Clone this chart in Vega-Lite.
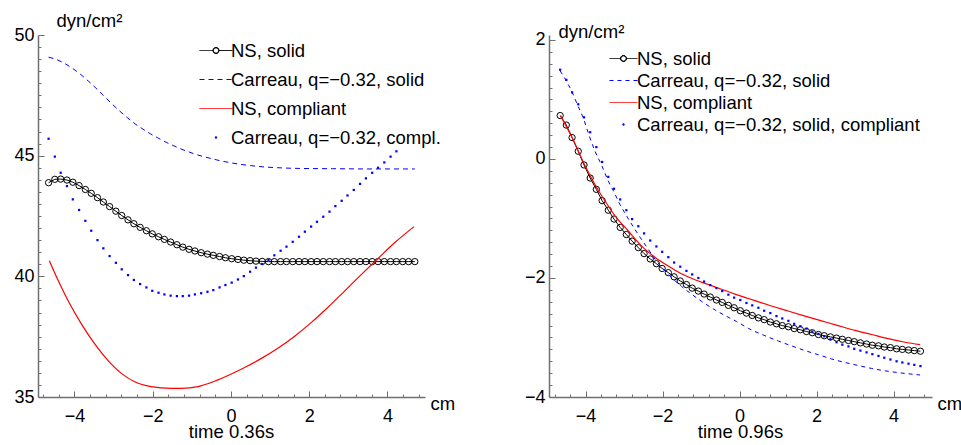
{
  "$schema": "https://vega.github.io/schema/vega-lite/v6.json",
  "background": "white",
  "padding": {"left": 13, "top": 11, "right": 0, "bottom": 0},
  "config": {
    "font": "Liberation Sans",
    "view": {"stroke": null},
    "axis": {"labelFontSize": 18, "titleFontSize": 18.5, "labelColor": "black", "titleColor": "black", "domainColor": "#707070", "tickColor": "#707070", "domainWidth": 1.5, "tickWidth": 1, "grid": false, "labelOverlap": false, "labelFlush": false, "titleFontWeight": "normal"},
    "legend": {"labelFontSize": 18.5, "labelColor": "black"}
  },
  "datasets": {
    "l_ns": [
      {"x": -4.66, "y": 43.88}, {"x": -4.50, "y": 44.02}, {"x": -4.35, "y": 44.03}, {"x": -4.19, "y": 43.99}, {"x": -4.04, "y": 43.90},
      {"x": -3.88, "y": 43.76}, {"x": -3.72, "y": 43.60}, {"x": -3.57, "y": 43.44}, {"x": -3.41, "y": 43.26}, {"x": -3.26, "y": 43.08},
      {"x": -3.10, "y": 42.89}, {"x": -2.94, "y": 42.70}, {"x": -2.79, "y": 42.52}, {"x": -2.63, "y": 42.34}, {"x": -2.48, "y": 42.18},
      {"x": -2.32, "y": 42.03}, {"x": -2.16, "y": 41.89}, {"x": -2.01, "y": 41.76}, {"x": -1.85, "y": 41.64}, {"x": -1.70, "y": 41.53},
      {"x": -1.54, "y": 41.42}, {"x": -1.38, "y": 41.31}, {"x": -1.23, "y": 41.21}, {"x": -1.07, "y": 41.12}, {"x": -0.92, "y": 41.05},
      {"x": -0.76, "y": 40.98}, {"x": -0.60, "y": 40.92}, {"x": -0.45, "y": 40.87}, {"x": -0.29, "y": 40.82}, {"x": -0.14, "y": 40.77},
      {"x": 0.02, "y": 40.73}, {"x": 0.18, "y": 40.70}, {"x": 0.33, "y": 40.67}, {"x": 0.49, "y": 40.65}, {"x": 0.64, "y": 40.63},
      {"x": 0.80, "y": 40.62}, {"x": 0.96, "y": 40.61}, {"x": 1.11, "y": 40.61}, {"x": 1.27, "y": 40.61}, {"x": 1.42, "y": 40.61},
      {"x": 1.58, "y": 40.61}, {"x": 1.74, "y": 40.61}, {"x": 1.89, "y": 40.61}, {"x": 2.05, "y": 40.61}, {"x": 2.20, "y": 40.61},
      {"x": 2.36, "y": 40.61}, {"x": 2.52, "y": 40.61}, {"x": 2.67, "y": 40.61}, {"x": 2.83, "y": 40.61}, {"x": 2.98, "y": 40.61},
      {"x": 3.14, "y": 40.61}, {"x": 3.30, "y": 40.61}, {"x": 3.45, "y": 40.61}, {"x": 3.61, "y": 40.61}, {"x": 3.76, "y": 40.61},
      {"x": 3.92, "y": 40.61}, {"x": 4.08, "y": 40.61}, {"x": 4.23, "y": 40.61}, {"x": 4.39, "y": 40.61}, {"x": 4.54, "y": 40.61},
      {"x": 4.70, "y": 40.61}
    ],
    "l_cs": [
      {"x": -4.66, "y": 49.08}, {"x": -4.45, "y": 48.98}, {"x": -4.25, "y": 48.82}, {"x": -4.05, "y": 48.62}, {"x": -3.85, "y": 48.38},
      {"x": -3.65, "y": 48.10}, {"x": -3.45, "y": 47.80}, {"x": -3.25, "y": 47.48}, {"x": -3.05, "y": 47.16}, {"x": -2.85, "y": 46.86},
      {"x": -2.65, "y": 46.58}, {"x": -2.45, "y": 46.32}, {"x": -2.25, "y": 46.10}, {"x": -2.05, "y": 45.90}, {"x": -1.85, "y": 45.72},
      {"x": -1.65, "y": 45.55}, {"x": -1.45, "y": 45.40}, {"x": -1.25, "y": 45.26}, {"x": -1.05, "y": 45.14}, {"x": -0.85, "y": 45.03},
      {"x": -0.65, "y": 44.94}, {"x": -0.45, "y": 44.86}, {"x": -0.25, "y": 44.78}, {"x": -0.05, "y": 44.72}, {"x": 0.20, "y": 44.65},
      {"x": 0.50, "y": 44.59}, {"x": 0.80, "y": 44.54}, {"x": 1.20, "y": 44.50}, {"x": 1.80, "y": 44.47}, {"x": 2.60, "y": 44.46},
      {"x": 3.50, "y": 44.45}, {"x": 4.70, "y": 44.45}
    ],
    "l_nc": [
      {"x": -4.64, "y": 40.65}, {"x": -4.42, "y": 39.85}, {"x": -4.17, "y": 39.02}, {"x": -3.83, "y": 38.05}, {"x": -3.49, "y": 37.22},
      {"x": -3.15, "y": 36.53}, {"x": -2.80, "y": 35.98}, {"x": -2.46, "y": 35.63}, {"x": -2.04, "y": 35.43}, {"x": -1.53, "y": 35.36},
      {"x": -1.27, "y": 35.36}, {"x": -0.84, "y": 35.43}, {"x": -0.42, "y": 35.65}, {"x": 0.01, "y": 35.95}, {"x": 0.35, "y": 36.22},
      {"x": 0.78, "y": 36.60}, {"x": 1.20, "y": 37.02}, {"x": 1.63, "y": 37.52}, {"x": 2.05, "y": 38.08}, {"x": 2.48, "y": 38.72},
      {"x": 2.91, "y": 39.40}, {"x": 3.33, "y": 40.07}, {"x": 3.76, "y": 40.74}, {"x": 4.19, "y": 41.40}, {"x": 4.68, "y": 42.06}
    ],
    "l_cc": [
      {"x": -4.66, "y": 45.70}, {"x": -4.50, "y": 44.96}, {"x": -4.35, "y": 44.29}, {"x": -4.19, "y": 43.74}, {"x": -4.04, "y": 43.19},
      {"x": -3.88, "y": 42.75}, {"x": -3.72, "y": 42.30}, {"x": -3.57, "y": 41.89}, {"x": -3.41, "y": 41.50}, {"x": -3.26, "y": 41.16},
      {"x": -3.10, "y": 40.84}, {"x": -2.94, "y": 40.56}, {"x": -2.79, "y": 40.29}, {"x": -2.63, "y": 40.05}, {"x": -2.48, "y": 39.85},
      {"x": -2.32, "y": 39.68}, {"x": -2.16, "y": 39.54}, {"x": -2.01, "y": 39.40}, {"x": -1.85, "y": 39.32}, {"x": -1.70, "y": 39.25},
      {"x": -1.54, "y": 39.20}, {"x": -1.38, "y": 39.18}, {"x": -1.23, "y": 39.18}, {"x": -1.07, "y": 39.20}, {"x": -0.92, "y": 39.25},
      {"x": -0.76, "y": 39.30}, {"x": -0.60, "y": 39.36}, {"x": -0.45, "y": 39.43}, {"x": -0.29, "y": 39.54}, {"x": -0.14, "y": 39.64},
      {"x": 0.02, "y": 39.74}, {"x": 0.18, "y": 39.87}, {"x": 0.33, "y": 40.01}, {"x": 0.49, "y": 40.19}, {"x": 0.64, "y": 40.36},
      {"x": 0.80, "y": 40.51}, {"x": 0.96, "y": 40.68}, {"x": 1.11, "y": 40.87}, {"x": 1.27, "y": 41.06}, {"x": 1.42, "y": 41.23},
      {"x": 1.58, "y": 41.43}, {"x": 1.74, "y": 41.64}, {"x": 1.89, "y": 41.85}, {"x": 2.05, "y": 42.06}, {"x": 2.20, "y": 42.26},
      {"x": 2.36, "y": 42.47}, {"x": 2.52, "y": 42.68}, {"x": 2.67, "y": 42.91}, {"x": 2.83, "y": 43.13}, {"x": 2.98, "y": 43.35},
      {"x": 3.14, "y": 43.58}, {"x": 3.30, "y": 43.83}, {"x": 3.45, "y": 44.06}, {"x": 3.61, "y": 44.29}, {"x": 3.76, "y": 44.50},
      {"x": 3.92, "y": 44.72}, {"x": 4.08, "y": 44.96}, {"x": 4.23, "y": 45.18}
    ],
    "r_ns": [
      {"x": -4.66, "y": 0.73}, {"x": -4.50, "y": 0.57}, {"x": -4.35, "y": 0.36}, {"x": -4.19, "y": 0.13}, {"x": -4.04, "y": -0.10},
      {"x": -3.88, "y": -0.32}, {"x": -3.72, "y": -0.51}, {"x": -3.57, "y": -0.70}, {"x": -3.41, "y": -0.86}, {"x": -3.26, "y": -1.01},
      {"x": -3.10, "y": -1.15}, {"x": -2.94, "y": -1.27}, {"x": -2.79, "y": -1.38}, {"x": -2.63, "y": -1.49}, {"x": -2.48, "y": -1.59},
      {"x": -2.32, "y": -1.68}, {"x": -2.16, "y": -1.76}, {"x": -2.01, "y": -1.84}, {"x": -1.85, "y": -1.91}, {"x": -1.70, "y": -1.98},
      {"x": -1.54, "y": -2.05}, {"x": -1.38, "y": -2.11}, {"x": -1.23, "y": -2.17}, {"x": -1.07, "y": -2.22}, {"x": -0.92, "y": -2.27},
      {"x": -0.76, "y": -2.32}, {"x": -0.60, "y": -2.37}, {"x": -0.45, "y": -2.41}, {"x": -0.29, "y": -2.46}, {"x": -0.14, "y": -2.50},
      {"x": 0.02, "y": -2.55}, {"x": 0.18, "y": -2.59}, {"x": 0.33, "y": -2.63}, {"x": 0.49, "y": -2.67}, {"x": 0.64, "y": -2.70},
      {"x": 0.80, "y": -2.74}, {"x": 0.96, "y": -2.77}, {"x": 1.11, "y": -2.80}, {"x": 1.27, "y": -2.82}, {"x": 1.42, "y": -2.85},
      {"x": 1.58, "y": -2.87}, {"x": 1.74, "y": -2.90}, {"x": 1.89, "y": -2.92}, {"x": 2.05, "y": -2.95}, {"x": 2.20, "y": -2.97},
      {"x": 2.36, "y": -2.99}, {"x": 2.52, "y": -3.01}, {"x": 2.67, "y": -3.03}, {"x": 2.83, "y": -3.05}, {"x": 2.98, "y": -3.07},
      {"x": 3.14, "y": -3.09}, {"x": 3.30, "y": -3.11}, {"x": 3.45, "y": -3.13}, {"x": 3.61, "y": -3.14}, {"x": 3.76, "y": -3.16},
      {"x": 3.92, "y": -3.17}, {"x": 4.08, "y": -3.19}, {"x": 4.23, "y": -3.20}, {"x": 4.39, "y": -3.21}, {"x": 4.54, "y": -3.22},
      {"x": 4.70, "y": -3.23}
    ],
    "r_cs": [
      {"x": -4.66, "y": 1.48}, {"x": -4.49, "y": 1.30}, {"x": -4.34, "y": 1.11}, {"x": -4.21, "y": 0.91}, {"x": -4.06, "y": 0.69},
      {"x": -3.91, "y": 0.40}, {"x": -3.76, "y": 0.14}, {"x": -3.58, "y": -0.11}, {"x": -3.43, "y": -0.34}, {"x": -3.25, "y": -0.57},
      {"x": -3.11, "y": -0.76}, {"x": -2.94, "y": -0.95}, {"x": -2.76, "y": -1.14}, {"x": -2.59, "y": -1.31}, {"x": -2.41, "y": -1.48},
      {"x": -2.20, "y": -1.68}, {"x": -1.98, "y": -1.85}, {"x": -1.72, "y": -2.02}, {"x": -1.51, "y": -2.14}, {"x": -1.25, "y": -2.27},
      {"x": -0.99, "y": -2.39}, {"x": -0.68, "y": -2.52}, {"x": -0.38, "y": -2.63}, {"x": -0.08, "y": -2.73}, {"x": 0.24, "y": -2.85},
      {"x": 0.66, "y": -2.97}, {"x": 1.01, "y": -3.06}, {"x": 1.35, "y": -3.14}, {"x": 1.70, "y": -3.22}, {"x": 2.05, "y": -3.29},
      {"x": 2.39, "y": -3.36}, {"x": 2.74, "y": -3.42}, {"x": 3.08, "y": -3.47}, {"x": 3.43, "y": -3.52}, {"x": 3.78, "y": -3.56},
      {"x": 4.12, "y": -3.59}, {"x": 4.69, "y": -3.63}
    ],
    "r_nc": [
      {"x": -4.65, "y": 0.73}, {"x": -4.35, "y": 0.36}, {"x": -4.04, "y": -0.08}, {"x": -3.72, "y": -0.47}, {"x": -3.54, "y": -0.66},
      {"x": -3.24, "y": -0.95}, {"x": -2.89, "y": -1.21}, {"x": -2.55, "y": -1.46}, {"x": -2.20, "y": -1.65}, {"x": -1.85, "y": -1.80},
      {"x": -1.51, "y": -1.93}, {"x": -1.16, "y": -2.03}, {"x": -0.81, "y": -2.11}, {"x": -0.47, "y": -2.19}, {"x": -0.12, "y": -2.27},
      {"x": 0.21, "y": -2.34}, {"x": 0.40, "y": -2.38}, {"x": 0.83, "y": -2.47}, {"x": 1.26, "y": -2.555}, {"x": 1.70, "y": -2.64},
      {"x": 2.13, "y": -2.72}, {"x": 2.56, "y": -2.80}, {"x": 3.00, "y": -2.88}, {"x": 3.43, "y": -2.95}, {"x": 3.86, "y": -3.02},
      {"x": 4.30, "y": -3.08}, {"x": 4.69, "y": -3.12}
    ],
    "r_cc": [
      {"x": -4.66, "y": 1.50}, {"x": -4.50, "y": 1.33}, {"x": -4.35, "y": 1.12}, {"x": -4.19, "y": 0.92}, {"x": -4.04, "y": 0.70},
      {"x": -3.88, "y": 0.45}, {"x": -3.72, "y": 0.20}, {"x": -3.57, "y": -0.05}, {"x": -3.41, "y": -0.30}, {"x": -3.26, "y": -0.50},
      {"x": -3.10, "y": -0.68}, {"x": -2.94, "y": -0.86}, {"x": -2.79, "y": -1.01}, {"x": -2.63, "y": -1.13}, {"x": -2.48, "y": -1.25},
      {"x": -2.32, "y": -1.37}, {"x": -2.16, "y": -1.47}, {"x": -2.01, "y": -1.56}, {"x": -1.85, "y": -1.65}, {"x": -1.70, "y": -1.74},
      {"x": -1.54, "y": -1.81}, {"x": -1.38, "y": -1.88}, {"x": -1.23, "y": -1.94}, {"x": -1.07, "y": -2.00}, {"x": -0.92, "y": -2.06},
      {"x": -0.76, "y": -2.12}, {"x": -0.60, "y": -2.17}, {"x": -0.45, "y": -2.22}, {"x": -0.29, "y": -2.28}, {"x": -0.14, "y": -2.33},
      {"x": 0.02, "y": -2.37}, {"x": 0.18, "y": -2.42}, {"x": 0.33, "y": -2.46}, {"x": 0.49, "y": -2.50}, {"x": 0.64, "y": -2.55},
      {"x": 0.80, "y": -2.59}, {"x": 0.96, "y": -2.64}, {"x": 1.11, "y": -2.68}, {"x": 1.27, "y": -2.72}, {"x": 1.42, "y": -2.77},
      {"x": 1.58, "y": -2.81}, {"x": 1.74, "y": -2.85}, {"x": 1.89, "y": -2.90}, {"x": 2.05, "y": -2.94}, {"x": 2.20, "y": -2.98},
      {"x": 2.36, "y": -3.03}, {"x": 2.52, "y": -3.08}, {"x": 2.67, "y": -3.12}, {"x": 2.83, "y": -3.15}, {"x": 2.98, "y": -3.19},
      {"x": 3.14, "y": -3.22}, {"x": 3.30, "y": -3.25}, {"x": 3.45, "y": -3.28}, {"x": 3.61, "y": -3.31}, {"x": 3.76, "y": -3.34},
      {"x": 3.92, "y": -3.37}, {"x": 4.08, "y": -3.40}, {"x": 4.23, "y": -3.42}, {"x": 4.39, "y": -3.44}, {"x": 4.54, "y": -3.46},
      {"x": 4.70, "y": -3.48}
    ]
  },
  "hconcat": [
    {
      "width": 387,
      "height": 362,
      "title": {"text": "time 0.36s", "orient": "bottom", "anchor": "middle", "fontSize": 18.5, "fontWeight": "normal", "color": "black", "offset": -2},
      "resolve": {"axis": {"x": "independent", "y": "independent"}},
      "layer": [
        {
          "data": {"name": "l_ns"},
          "mark": {"type": "line", "strokeWidth": 1},
          "encoding": {
            "x": {"field": "x", "type": "quantitative", "scale": {"domain": [-4.93, 4.96], "zero": false, "nice": false},
              "axis": {"orient": "bottom", "title": "cm", "titleX": 392, "titleY": 6, "titleAlign": "left", "titleBaseline": "middle", "titleAngle": 0,
                "values": [-4, -2, 0, 2, 4], "format": "d", "tickSize": -6, "labelPadding": 16}},
            "y": {"field": "y", "type": "quantitative", "scale": {"domain": [35, 50], "zero": false, "nice": false},
              "axis": {"orient": "left", "title": "dyn/cm²", "titleAngle": 0, "titleX": 18, "titleY": -9, "titleAlign": "left", "titleBaseline": "alphabetic",
                "values": [35, 40, 45, 50], "format": "d", "tickSize": -6, "labelPadding": 10}},
            "color": {"datum": "NS, solid", "type": "nominal",
              "scale": {"domain": ["NS, solid", "Carreau, q=−0.32, solid", "NS, compliant", "Carreau, q=−0.32, compl."], "range": ["#000000", "#0000ff", "#ff0000", "#0000ff"]},
              "legend": {"title": null, "orient": "none", "legendX": 161, "legendY": 6, "padding": 0, "labelLimit": 500, "labelOffset": -2,
                "symbolSize": 1089, "symbolStrokeWidth": 1, "symbolOffset": 0, "clipHeight": 19, "rowPadding": 10, "symbolType": "stroke",
                "encode": {"symbols": {"update": {
                  "shape": {"signal": "datum.value === 'NS, solid' ? 'M-1,0H-0.19M0.19,0H1M0.19,0L0.165,0.095L0.095,0.165L0,0.19L-0.095,0.165L-0.165,0.095L-0.19,0L-0.165,-0.095L-0.095,-0.165L0,-0.19L0.095,-0.165L0.165,-0.095ZM0.16,0L0.139,-0.08L0.08,-0.139L0,-0.16L-0.08,-0.139L-0.139,-0.08L-0.16,0L-0.139,0.08L-0.08,0.139L0,0.16L0.08,0.139L0.139,0.08Z' : datum.value === 'Carreau, q=−0.32, compl.' ? 'M-0.04,-0.04H0.04V0.04H-0.04Z' : 'stroke'"},
                  "fill": {"signal": "datum.value === 'Carreau, q=−0.32, compl.' ? '#0000ff' : 'transparent'"},
                  "strokeDash": {"signal": "datum.value === 'Carreau, q=−0.32, solid' ? [5,4] : [1,0]"},
                  "opacity": {"value": 1}
                }}}}}
          }
        },
        {
          "data": {"name": "l_ns"},
          "mark": {"type": "point", "shape": "circle", "filled": false, "size": 40, "strokeWidth": 1, "opacity": 1},
          "encoding": {
            "x": {"field": "x", "type": "quantitative",
              "axis": {"orient": "bottom", "title": null, "labels": false, "domain": false, "tickSize": -3,
                "values": [-4.8, -4.4, -3.6, -3.2, -2.8, -2.4, -1.6, -1.2, -0.8, -0.4, 0.4, 0.8, 1.2, 1.6, 2.4, 2.8, 3.2, 3.6, 4.4, 4.8]}},
            "y": {"field": "y", "type": "quantitative",
              "axis": {"orient": "left", "title": null, "labels": false, "domain": false, "tickSize": -3,
                "values": [35.5, 36, 36.5, 37, 37.5, 38, 38.5, 39, 39.5, 40.5, 41, 41.5, 42, 42.5, 43, 43.5, 44, 44.5, 45.5, 46, 46.5, 47, 47.5, 48, 48.5, 49, 49.5]}},
            "color": {"datum": "NS, solid", "type": "nominal"}}
        },
        {
          "data": {"name": "l_cs"},
          "mark": {"type": "line", "strokeWidth": 1, "strokeDash": [5, 4], "interpolate": "monotone"},
          "encoding": {"x": {"field": "x", "type": "quantitative", "axis": null}, "y": {"field": "y", "type": "quantitative", "axis": null}, "color": {"datum": "Carreau, q=−0.32, solid", "type": "nominal"}}
        },
        {
          "data": {"name": "l_nc"},
          "mark": {"type": "line", "strokeWidth": 1.2, "interpolate": "monotone"},
          "encoding": {"x": {"field": "x", "type": "quantitative", "axis": null}, "y": {"field": "y", "type": "quantitative", "axis": null}, "color": {"datum": "NS, compliant", "type": "nominal"}}
        },
        {
          "data": {"name": "l_cc"},
          "mark": {"type": "point", "shape": "square", "filled": true, "size": 5, "opacity": 1},
          "encoding": {"x": {"field": "x", "type": "quantitative", "axis": null}, "y": {"field": "y", "type": "quantitative", "axis": null}, "color": {"datum": "Carreau, q=−0.32, compl.", "type": "nominal"}}
        }
      ]
    },
    {
      "width": 383,
      "height": 362,
      "title": {"text": "time 0.96s", "orient": "bottom", "anchor": "middle", "fontSize": 18.5, "fontWeight": "normal", "color": "black", "offset": -2},
      "resolve": {"axis": {"x": "independent", "y": "independent"}},
      "layer": [
        {
          "data": {"name": "r_ns"},
          "mark": {"type": "line", "strokeWidth": 1},
          "encoding": {
            "x": {"field": "x", "type": "quantitative", "scale": {"domain": [-4.95, 5.0], "zero": false, "nice": false},
              "axis": {"orient": "bottom", "title": "cm", "titleX": 388, "titleY": 6, "titleAlign": "left", "titleBaseline": "middle", "titleAngle": 0,
                "values": [-4, -2, 0, 2, 4], "format": "d", "tickSize": -6, "labelPadding": 16}},
            "y": {"field": "y", "type": "quantitative", "scale": {"domain": [-4, 2.084], "zero": false, "nice": false},
              "axis": {"orient": "left", "title": "dyn/cm²", "titleAngle": 0, "titleX": 9, "titleY": 2, "titleAlign": "left", "titleBaseline": "alphabetic",
                "values": [-4, -2, 0, 2], "format": "d", "tickSize": -6, "labelPadding": 10}},
            "color": {"datum": "NS, solid", "type": "nominal",
              "scale": {"domain": ["NS, solid", "Carreau, q=−0.32, solid", "NS, compliant", "Carreau, q=−0.32, solid, compliant"], "range": ["#000000", "#0000ff", "#ff0000", "#0000ff"]},
              "legend": {"title": null, "orient": "none", "legendX": 60, "legendY": 14, "padding": 0, "labelLimit": 500, "labelOffset": -1,
                "symbolSize": 784, "symbolStrokeWidth": 1, "symbolOffset": 0, "clipHeight": 19, "rowPadding": 3, "symbolType": "stroke",
                "encode": {"symbols": {"update": {
                  "shape": {"signal": "datum.value === 'NS, solid' ? 'M-1,0H-0.22M0.22,0H1M0.22,0L0.191,0.11L0.11,0.191L0,0.22L-0.11,0.191L-0.191,0.11L-0.22,0L-0.191,-0.11L-0.11,-0.191L0,-0.22L0.11,-0.191L0.191,-0.11ZM0.19,0L0.165,-0.095L0.095,-0.165L0,-0.19L-0.095,-0.165L-0.165,-0.095L-0.19,0L-0.165,0.095L-0.095,0.165L0,0.19L0.095,0.165L0.165,0.095Z' : datum.value === 'Carreau, q=−0.32, solid, compliant' ? 'M-0.045,-0.045H0.045V0.045H-0.045Z' : 'stroke'"},
                  "fill": {"signal": "datum.value === 'Carreau, q=−0.32, solid, compliant' ? '#0000ff' : 'transparent'"},
                  "strokeDash": {"signal": "datum.value === 'Carreau, q=−0.32, solid' ? [4,4] : [1,0]"},
                  "opacity": {"value": 1}
                }}}}}
          }
        },
        {
          "data": {"name": "r_ns"},
          "mark": {"type": "point", "shape": "circle", "filled": false, "size": 40, "strokeWidth": 1, "opacity": 1},
          "encoding": {
            "x": {"field": "x", "type": "quantitative",
              "axis": {"orient": "bottom", "title": null, "labels": false, "domain": false, "tickSize": -3,
                "values": [-4.8, -4.4, -3.6, -3.2, -2.8, -2.4, -1.6, -1.2, -0.8, -0.4, 0.4, 0.8, 1.2, 1.6, 2.4, 2.8, 3.2, 3.6, 4.4, 4.8]}},
            "y": {"field": "y", "type": "quantitative",
              "axis": {"orient": "left", "title": null, "labels": false, "domain": false, "tickSize": -3,
                "values": [-3.8, -3.6, -3.4, -3.2, -3, -2.8, -2.6, -2.4, -2.2, -1.8, -1.6, -1.4, -1.2, -1, -0.8, -0.6, -0.4, -0.2, 0.2, 0.4, 0.6, 0.8, 1, 1.2, 1.4, 1.6, 1.8]}},
            "color": {"datum": "NS, solid", "type": "nominal"}}
        },
        {
          "data": {"name": "r_cs"},
          "mark": {"type": "line", "strokeWidth": 1, "strokeDash": [4, 4], "interpolate": "monotone"},
          "encoding": {"x": {"field": "x", "type": "quantitative", "axis": null}, "y": {"field": "y", "type": "quantitative", "axis": null}, "color": {"datum": "Carreau, q=−0.32, solid", "type": "nominal"}}
        },
        {
          "data": {"name": "r_nc"},
          "mark": {"type": "line", "strokeWidth": 1.2, "interpolate": "monotone"},
          "encoding": {"x": {"field": "x", "type": "quantitative", "axis": null}, "y": {"field": "y", "type": "quantitative", "axis": null}, "color": {"datum": "NS, compliant", "type": "nominal"}}
        },
        {
          "data": {"name": "r_cc"},
          "mark": {"type": "point", "shape": "square", "filled": true, "size": 5, "opacity": 1},
          "encoding": {"x": {"field": "x", "type": "quantitative", "axis": null}, "y": {"field": "y", "type": "quantitative", "axis": null}, "color": {"datum": "Carreau, q=−0.32, solid, compliant", "type": "nominal"}}
        }
      ]
    }
  ],
  "spacing": 124,
  "bounds": "flush",
  "resolve": {"scale": {"color": "independent"}, "legend": {"color": "independent"}}
}
